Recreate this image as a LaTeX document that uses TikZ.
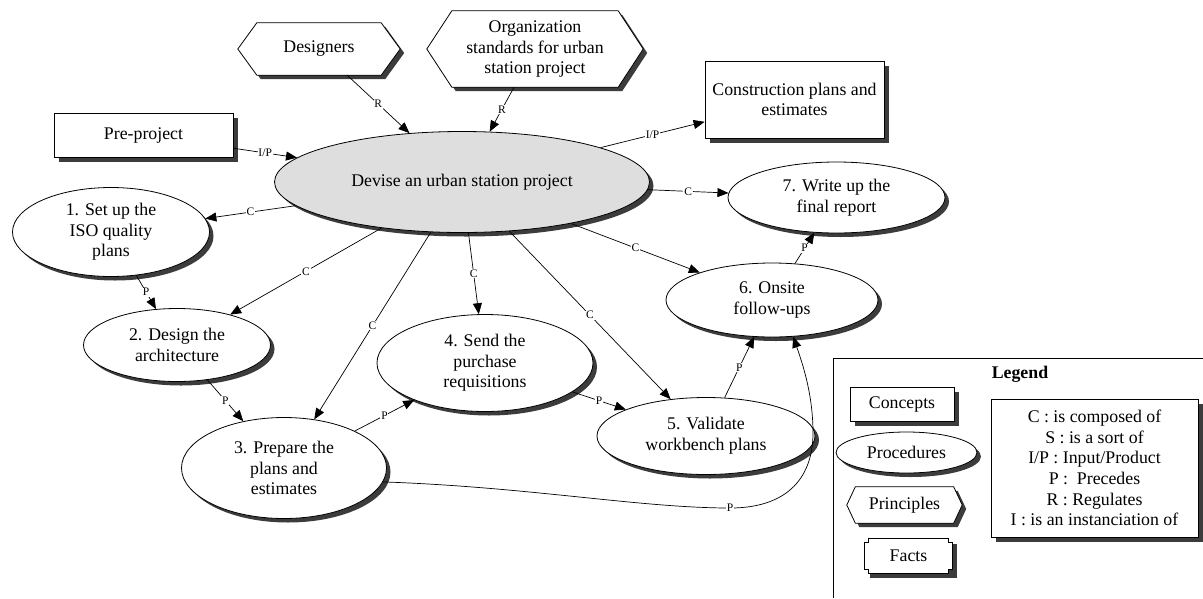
\documentclass[tikz,border=0pt]{standalone}
\usepackage{fontspec}
\setmainfont{Liberation Serif}
\usetikzlibrary{shapes.geometric,shadows,arrows.meta}
\definecolor{mainfill}{RGB}{222,222,222}
\definecolor{shadowc}{RGB}{60,60,60}
\pgfdeclarelayer{bg}
\pgfsetlayers{bg,main}
\newcommand\hexagonfig[2]{%
  \fill[shadowc] ([shift={(4,4)}]#1.west) -- ([shift={(4+#2,4)}]#1.north west) -- ([shift={(4-#2,4)}]#1.north east) -- ([shift={(4,4)}]#1.east) -- ([shift={(4-#2,4)}]#1.south east) -- ([shift={(4+#2,4)}]#1.south west) -- cycle;
  \draw[shapeline] (#1.west) -- ([shift={(#2,0)}]#1.north west) -- ([shift={(-#2,0)}]#1.north east) -- (#1.east) -- ([shift={(-#2,0)}]#1.south east) -- ([shift={(#2,0)}]#1.south west) -- cycle;}
\newcommand\notchfig[2]{%
  \fill[shadowc] ([shift={(5,5)}]#1.north west) rectangle ([shift={(5,5)}]#1.south east);
  \draw[shapeline] ([shift={(#2,0)}]#1.north west) -- ([shift={(-#2,0)}]#1.north east) -- ([shift={(-#2,#2)}]#1.north east) -- ([shift={(0,#2)}]#1.north east) -- ([shift={(0,-#2)}]#1.south east) -- ([shift={(-#2,-#2)}]#1.south east) -- ([shift={(-#2,0)}]#1.south east) -- ([shift={(#2,0)}]#1.south west) -- ([shift={(#2,-#2)}]#1.south west) -- ([shift={(0,-#2)}]#1.south west) -- ([shift={(0,#2)}]#1.north west) -- ([shift={(#2,#2)}]#1.north west) -- cycle;}
\tikzset{
  nodebase/.style={draw=black, line width=0.8pt, font=\fontsize{17.8}{20.6}\selectfont, align=center, inner sep=0pt},
  concept/.style={nodebase, rectangle, fill=white, drop shadow={shadow xshift=5pt, shadow yshift=-5pt, fill=shadowc, opacity=1}},
  proc/.style={nodebase, ellipse, fill=white, drop shadow={shadow xshift=4pt, shadow yshift=-4pt, fill=shadowc, opacity=1}},
  mainproc/.style={proc, fill=mainfill},
  textonly/.style={rectangle, font=\fontsize{17.8}{20.6}\selectfont, align=center, inner sep=0pt},
  shapeline/.style={draw=black, line width=0.8pt, fill=white},
  conn/.style={draw=black, line width=0.7pt, -{Triangle[length=11pt,width=9pt]}},
  lbl/.style={font=\fontsize{11.5}{11.5}\selectfont, fill=white, inner sep=0.8pt},
}
\begin{document}
\begin{tikzpicture}[x={(1pt,0)}, y={(0,-1pt)}]
\useasboundingbox (0,0) rectangle (1203,598);
\begin{pgfonlayer}{bg}
\fill[white] (0,0) rectangle (1203,598);
\end{pgfonlayer}

% principles (hexagons)
\node[textonly, minimum width=162pt, minimum height=52pt] (des) at (319,49) {Designers};
\node[textonly, minimum width=216pt, minimum height=76pt] (org) at (535,49) {Organization\\standards for urban\\station project};
% concepts
\node[concept, minimum width=179pt, minimum height=44pt] (pre) at (143.5,135) {Pre-project};
\node[concept, minimum width=179pt, minimum height=77pt] (cons) at (794.5,99.5) {Construction plans and\\estimates};
% procedures
\node[mainproc, minimum width=375pt, minimum height=101pt] (main) at (462,182) {Devise an urban station project};
\node[proc, minimum width=197pt, minimum height=89pt] (e1) at (111,232) {1. Set up the\\ISO quality\\plans};
\node[proc, minimum width=187pt, minimum height=73pt] (e2) at (177,345) {2. Design the\\architecture};
\node[proc, minimum width=205pt, minimum height=101pt] (e3) at (284,468) {3. Prepare the\\plans and\\estimates};
\node[proc, minimum width=216pt, minimum height=97pt] (e4) at (485,363) {4. Send the\\purchase\\requisitions};
\node[proc, minimum width=218pt, minimum height=77pt] (e5) at (706,436) {5. Validate\\workbench plans};
\node[proc, minimum width=212pt, minimum height=74pt] (e6) at (772,300) {6. Onsite\\follow-ups};
\node[proc, minimum width=217pt, minimum height=71pt] (e7) at (836.5,197.5) {7. Write up the\\final report};

% legend
\node[font=\fontsize{17.8}{20.6}\selectfont\bfseries, inner sep=0pt] (legtitle) at (1020,374) {Legend};
\node[concept, minimum width=104pt, minimum height=34pt] (lconc) at (902,404) {Concepts};
\node[proc, minimum width=141pt, minimum height=41pt] (lproc) at (906.5,452.5) {Procedures};
\node[textonly, minimum width=115pt, minimum height=36pt] (lprin) at (904.5,505) {Principles};
\node[textonly, minimum width=87pt, minimum height=34pt] (lfact) at (908.5,556) {Facts};
\node[concept, minimum width=207pt, minimum height=138pt] (lrel) at (1094.5,468) {C : is composed of\\S : is a sort of\\I/P : Input/Product\\P :\ \ Precedes\\R : Regulates\\I : is an instanciation of};

\begin{pgfonlayer}{bg}
\hexagonfig{des}{19}
\hexagonfig{org}{25}
\hexagonfig{lprin}{8.5}
\notchfig{lfact}{4}
\end{pgfonlayer}
\draw[line width=0.8pt] (1203,358) -- (833,358) -- (833,598);

% connectors
\draw[conn] (pre) -- node[lbl]{I/P} (main);
\draw[conn] (des) -- node[lbl]{R} (main);
\draw[conn] (org) -- node[lbl]{R} (main);
\draw[conn] (main) -- node[lbl]{I/P} (cons);
\draw[conn] (main) -- node[lbl]{C} (e1);
\draw[conn] (main) -- node[lbl]{C} (e2);
\draw[conn] (main) -- node[lbl]{C} (e3);
\draw[conn] (main) -- node[lbl]{C} (e4);
\draw[conn] (main) -- node[lbl]{C} (e5);
\draw[conn] (main) -- node[lbl]{C} (e6);
\draw[conn] (main) -- node[lbl]{C} (e7);
\draw[conn] (e1) -- node[lbl]{P} (e2);
\draw[conn] (e2) -- node[lbl]{P} (e3);
\draw[conn] (e3) -- node[lbl]{P} (e4);
\draw[conn] (e4) -- node[lbl]{P} (e5);
\draw[conn] (e5) -- node[lbl]{P} (e6);
\draw[conn] (e6) -- node[lbl]{P} (e7);
\draw[conn] (e3.352) .. controls (530,487) and (640,508) .. (730,508) node[lbl]{P}
  .. controls (790,508) and (813,475) .. (813,433)
  .. controls (813,395) and (803,365) .. (e6.300);
\end{tikzpicture}
\end{document}
